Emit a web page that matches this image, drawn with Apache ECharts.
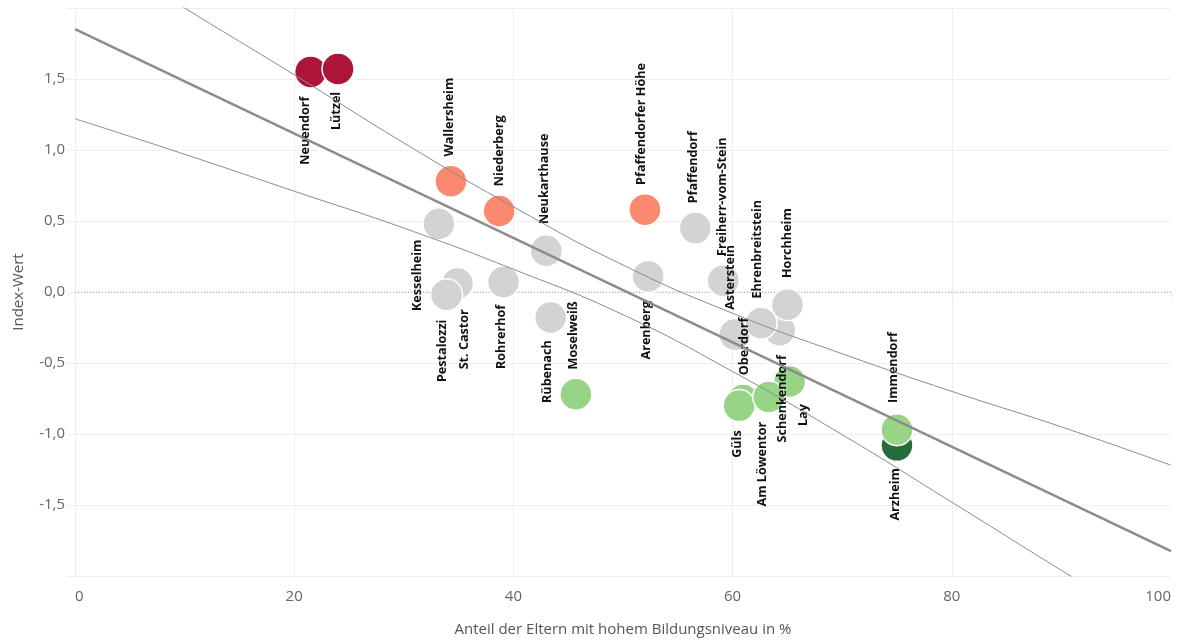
<!DOCTYPE html>
<html lang="de">
<head>
<meta charset="utf-8">
<title>Bildungsniveau und Index-Wert</title>
<script src="https://cdn.jsdelivr.net/npm/echarts@6/dist/echarts.min.js"></script>
<style>
  html, body { margin: 0; padding: 0; background: #ffffff; }
  #chart { width: 1177px; height: 642px; }
</style>
</head>
<body>
<div id="chart"></div>
<script>
// Stadtteile, Anteil der Eltern mit hohem Bildungsniveau (%) und Index-Wert
const districts = ['Neuendorf', 'Lützel', 'Wallersheim', 'Niederberg', 'Kesselheim', 'Neukarthause',
  'Pfaffendorfer Höhe', 'Pfaffendorf', 'St. Castor', 'Pestalozzi', 'Rohrerhof', 'Rübenach',
  'Moselweiß', 'Arenberg', 'Freiherr-vom-Stein', 'Asterstein', 'Schenkendorf', 'Horchheim',
  'Ehrenbreitstein', 'Oberdorf', 'Güls', 'Lay', 'Am Löwentor', 'Arzheim', 'Immendorf'];
const shareHighEducation = [21.5, 24.0, 34.3, 38.7, 33.2, 43.0,
  52.0, 56.6, 34.9, 33.9, 39.1, 43.4,
  45.7, 52.3, 59.15, 60.2, 64.3, 65.0,
  62.6, 60.95, 60.6, 65.2, 63.3, 75.0, 75.0];
const indexValue = [1.55, 1.57, 0.78, 0.57, 0.48, 0.29,
  0.58, 0.45, 0.06, -0.02, 0.07, -0.18,
  -0.72, 0.11, 0.08, -0.30, -0.27, -0.09,
  -0.22, -0.76, -0.80, -0.63, -0.74, -1.08, -0.97];

// Regressionsgerade und Konfidenzband
const regressionX = [0, 100];
const regressionY = [1.852, -1.824];
const bandX = [0, 10, 20, 30, 40, 50, 60, 70, 80, 90, 100];
const bandUpper = [2.48, 2.00, 1.53, 1.05, 0.60, 0.19, -0.15, -0.435, -0.70, -0.95, -1.22];
const bandLower = [1.22, 0.97, 0.71, 0.45, 0.16, -0.16, -0.56, -1.005, -1.48, -1.96, -2.43];

// Achsen
const xTicks = [0, 20, 40, 60, 80, 100];
const yTicks = [-2, -1.5, -1, -0.5, 0, 0.5, 1, 1.5, 2];

// Beschriftung: oberhalb oder unterhalb des Kreises, dazu eine kleine
// Verschiebung in Bildschirmpixeln [dx, dy]
const labelPlacement = {
  'Neuendorf': ['bottom', -5, 0],
  'Lützel': ['bottom', -2, -2],
  'Wallersheim': ['top', -2, 0],
  'Niederberg': ['top', 0, 0],
  'Kesselheim': ['bottom', -21, -9],
  'Neukarthause': ['top', -2, -2],
  'Pfaffendorfer Höhe': ['top', -4, 0],
  'Pfaffendorf': ['top', -2, 0],
  'St. Castor': ['bottom', 7, 1],
  'Pestalozzi': ['bottom', -4, 0],
  'Rohrerhof': ['bottom', -2, -2],
  'Rübenach': ['bottom', -3, -2],
  'Moselweiß': ['top', -2, 0],
  'Arenberg': ['bottom', -2, 0],
  'Freiherr-vom-Stein': ['top', -1, 0],
  'Asterstein': ['top', -4, 0],
  'Schenkendorf': ['bottom', 3, 0],
  'Horchheim': ['top', 0, -2],
  'Ehrenbreitstein': ['top', -4, 0],
  'Oberdorf': ['top', 1, 0],
  'Güls': ['bottom', -2, 0],
  'Lay': ['bottom', 14, -2],
  'Am Löwentor': ['bottom', -6, 0],
  'Arzheim': ['bottom', -2, -2],
  'Immendorf': ['top', -4, -2]
};

// Die Beschriftung ist um 90° gedreht; der Versatz wirkt im gedrehten System.
const points = districts.map((name, i) => {
  const [pos, dx, dy] = labelPlacement[name];
  return {
    name: name,
    value: [shareHighEducation[i], indexValue[i]],
    label: {
      position: pos,
      align: pos === 'top' ? 'left' : 'right',
      verticalAlign: 'middle',
      offset: [-dy, dx]
    }
  };
});

const pairs = (xs, ys) => xs.map((x, i) => [x, ys[i]]);
const fmt = v => v.toFixed(1).replace('.', ',');
const FONT = '"Open Sans", "Noto Sans", sans-serif';
const gridColor = '#efefef';

const chart = echarts.init(document.getElementById('chart'), null, { renderer: 'canvas' });
chart.setOption({
  animation: false,
  backgroundColor: '#ffffff',
  textStyle: { fontFamily: FONT },
  grid: { left: 75, right: 6, top: 8, bottom: 66, containLabel: false, outerBoundsMode: 'none' },
  xAxis: {
    type: 'value',
    min: xTicks[0],
    max: xTicks[xTicks.length - 1],
    interval: xTicks[1] - xTicks[0],
    name: 'Anteil der Eltern mit hohem Bildungsniveau in %',
    nameLocation: 'middle',
    nameGap: 46,
    nameTextStyle: { fontSize: 15, color: '#555555', fontFamily: FONT },
    axisLine: { show: true, lineStyle: { color: '#e8e8e8', width: 1 } },
    axisTick: { show: true, length: 6, lineStyle: { color: '#e8e8e8' } },
    axisLabel: {
      fontSize: 15, color: '#666666', margin: 13, fontFamily: FONT,
      alignMinLabel: 'left', alignMaxLabel: 'right'
    },
    splitLine: { show: true, showMaxLine: false, lineStyle: { color: gridColor, width: 1 } }
  },
  yAxis: {
    type: 'value',
    min: yTicks[0],
    max: yTicks[yTicks.length - 1],
    interval: yTicks[1] - yTicks[0],
    name: 'Index-Wert',
    nameLocation: 'middle',
    nameGap: 49,
    nameTextStyle: { fontSize: 15, color: '#555555', fontFamily: FONT },
    axisLine: { show: false },
    axisTick: { show: true, length: 8, lineStyle: { color: gridColor } },
    axisLabel: {
      fontSize: 15, color: '#666666', margin: 10, fontFamily: FONT,
      formatter: v => (Math.abs(v) >= 2 ? '' : fmt(v))
    },
    splitLine: { show: true, lineStyle: { color: gridColor, width: 1 } }
  },
  visualMap: {
    type: 'piecewise',
    show: false,
    seriesIndex: 0,
    dimension: 1,
    pieces: [
      { gt: 1, color: '#ad1538' },
      { gt: 0.5, lte: 1, color: '#f98a70' },
      { gte: -0.5, lte: 0.5, color: '#d3d3d3' },
      { gte: -1, lt: -0.5, color: '#98d486' },
      { lt: -1, color: '#256b3c' }
    ]
  },
  series: [
    {
      type: 'scatter',
      z: 3,
      symbolSize: 32,
      itemStyle: { borderColor: '#ffffff', borderWidth: 1.5, opacity: 1 },
      label: {
        show: true,
        formatter: '{b}',
        rotate: 90,
        distance: 8,
        fontSize: 12.6,
        fontWeight: 'bold',
        color: '#111111',
        fontFamily: FONT
      },
      emphasis: { disabled: true },
      data: points
    },
    {
      type: 'line',
      z: 1,
      symbol: 'none',
      silent: true,
      lineStyle: { color: '#aaaaaa', width: 1, type: [1, 2] },
      data: [[xTicks[0], 0], [xTicks[xTicks.length - 1], 0]]
    },
    {
      type: 'line',
      z: 4,
      symbol: 'none',
      silent: true,
      smooth: true,
      lineStyle: { color: '#8a8a8a', width: 1 },
      data: pairs(bandX, bandUpper)
    },
    {
      type: 'line',
      z: 4,
      symbol: 'none',
      silent: true,
      smooth: true,
      lineStyle: { color: '#8a8a8a', width: 1 },
      data: pairs(bandX, bandLower)
    },
    {
      type: 'line',
      z: 4,
      symbol: 'none',
      silent: true,
      lineStyle: { color: '#8c8c8c', width: 2.5 },
      data: pairs(regressionX, regressionY)
    }
  ]
});
</script>
</body>
</html>
